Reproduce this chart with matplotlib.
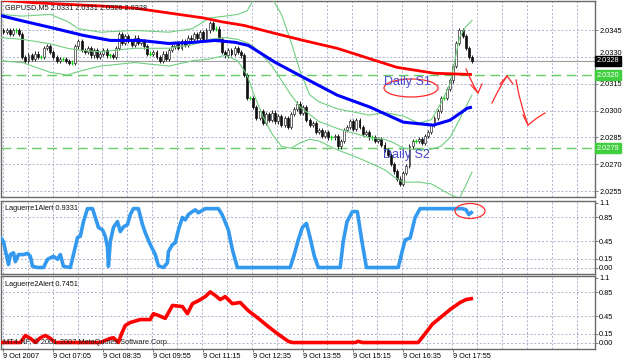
import numpy as np
import matplotlib
matplotlib.use("Agg")
import matplotlib.pyplot as plt
from matplotlib.patches import Ellipse
from matplotlib.lines import Line2D
from matplotlib.transforms import Affine2D, blended_transform_factory

plt.rcParams['font.family'] = ['Liberation Sans', 'DejaVu Sans']

# ---------------- data ----------------
title_main = "GBPUSD,M5 2.0331 2.0331 2.0326 2.0328"
title_lag1 = "Laguerre1Alert 0.9331"
title_lag2 = "Laguerre2Alert 0.7451"
copyright_txt = "MT4-NF, \u00a9 2001-2007 MetaQuotes Software Corp."

time_labels = ["9 Oct 2007", "9 Oct 07:05", "9 Oct 08:35", "9 Oct 09:55", "9 Oct 11:15",
               "9 Oct 12:35", "9 Oct 13:55", "9 Oct 15:15", "9 Oct 16:35", "9 Oct 17:55"]
bars_per_label = 16

# candle closes, pips above 2.0000 (M5 bars)
first_open_pips = 345
close_pips = [344, 345, 343, 345, 345, 343,
              330,
              328, 331, 329, 332, 330, 330,
              335, 336, 333,
              330, 328, 329, 329, 328, 327, 327,
              336, 339, 334,
              333, 335, 331, 334, 330, 332, 334, 331, 331, 330, 335,
              343, 338, 342,
              339, 337, 341, 338,
              339, 336,
              332, 332, 333,
              330, 328, 332, 329,
              334, 336, 338, 335, 339, 337, 341, 340,
              343, 341, 344, 340, 345,
              349, 346, 346,
              340,
              333, 331, 334, 332, 335, 333, 331,
              320, 307, 307, 302,
              296, 300, 293, 298, 295, 299,
              294, 297, 292, 296, 291, 298,
              301, 304, 299, 302,
              295, 292, 293,
              288, 289, 286, 288, 285, 285, 286,
              280, 283,
              289, 291, 294, 290, 295, 291,
              287, 288, 285, 285, 283, 284, 281,
              278, 275, 270, 266, 262, 259, 265, 269,
              280, 283, 283, 284, 282, 286,
              288, 292, 296, 300, 307, 307, 312, 317,
              325, 338,
              345, 342,
              335, 330, 328]

price_levels = [2.0255, 2.0270, 2.0285, 2.0300, 2.0315, 2.0330, 2.0345]
bid_price = 2.0328
daily_s1 = 2.0320
daily_s2 = 2.0279

# moving averages (bar index, pips)
red_ma_x = [-1, 10, 31, 42, 64, 70, 77, 87, 96, 107, 117, 126, 138, 150]
red_ma_pips = [362, 360.5, 358.7, 357.5, 352, 349.8, 347.8, 343.3, 339.4, 334.9, 329.3, 324.3, 321, 320.3]
blue_ma_x = [-1, 5.4, 15, 25.6, 34.2, 43.8, 52.8, 60.5, 67.8, 74.2, 78.4, 87, 96, 106.9,
             117.4, 128, 137.6, 143, 148.5, 150]
blue_ma_pips = [353.4, 350.6, 346.7, 342.2, 339.4, 339.4, 337.7, 338.3, 339.4, 338.3, 336.6,
                327.1, 318.7, 308.7, 302, 293.6, 291.9, 294.7, 301.4, 302]

# Bollinger bands (bar index, pips)
bb_x = [-1, 6, 15, 20.5, 24, 31, 42, 53, 60.5, 66, 71, 75, 78, 80, 83, 86, 89, 92, 95, 98,
        101, 107, 113, 117, 122, 125, 128, 133, 137, 140, 143, 146, 148, 150]
bb_upper = [354, 353, 354, 350, 346, 344, 345, 344, 346, 352, 353, 354, 356, 362, 365, 363, 354,
            339, 322, 309, 305, 301, 299, 297.5, 299, 298, 297, 293, 295, 304, 315, 341, 347, 350.6]
bb_mid = [341, 340, 337.5, 335, 334, 333, 335, 335, 337, 340, 341, 340, 338, 336, 331, 325, 317,
          309, 302, 298, 294, 290, 287, 285, 284, 282, 279, 278, 278.5, 280, 285, 295, 302, 308.8]
bb_lower = [328, 327, 321.5, 320, 322, 325, 327, 325, 328, 329, 331, 328, 320, 310, 297, 287, 280,
            279, 282, 284, 283, 278, 274, 271, 267, 263, 260, 260, 259, 256, 253, 251, 258, 265.6]

# Laguerre 1 (bar index, value)
lag1_x = [-1, 0, 1.6, 2.2, 3.2, 3.8, 4.8, 6.4, 7.7, 8.6, 9.3, 10.9, 12.8, 14.1, 16, 17.3, 18.2,
          19.2, 21.4, 22.4, 23.7, 24.6, 25.6, 26.9, 28.5, 29.4, 30.4, 31.7, 32.6, 33.3, 33.6,
          34.2, 35.2, 36.5, 37.4, 38.4, 39.7, 40.6, 41.6, 43.2, 44.5, 45.4, 47, 48.6, 49.6,
          51.2, 52.5, 52.8, 54.1, 55, 56, 57.3, 58.2, 59.2, 60.5, 61.4, 62.4, 64.6, 68.8, 70,
          72, 73.3, 74.9, 91.8, 93.1, 94.4, 95.7, 97, 98.2, 99.5, 100.8, 107.8, 108.8, 110,
          111.7, 113.3, 114.6, 116.2, 126.4, 127.4, 128.6, 130.2, 131.8, 133.4, 146.9, 148.1,
          149, 149.8]
lag1_val = [0.51, 0.44, 0.05, 0.22, 0.25, 0.10, 0.22, 0.22, 0.24, 0.19, 0.02, 0, 0, 0.14, 0.19,
            0.14, 0.22, 0.02, 0, 0.22, 0.51, 0.53, 0.78, 1.0, 1.0, 0.85, 0.68, 0.64, 0.53, 0.34,
            0.02, 0.44, 0.68, 0.78, 0.61, 0.69, 0.73, 0.9, 1.0, 1.0, 0.73, 0.59, 0.39, 0.22,
            0.03, 0, 0.08, 0.27, 0.39, 0.42, 0.64, 0.85, 0.81, 0.9, 0.95, 0.98, 0.93, 1.0, 1.0,
            0.9, 0.64, 0.3, 0, 0, 0.22, 0.47, 0.68, 0.75, 0.5, 0.2, 0, 0, 0.45, 0.78, 0.95,
            0.95, 0.5, 0, 0, 0.22, 0.47, 0.5, 0.85, 1.0, 1.0, 0.98, 0.9, 0.933]

# Laguerre 2 (bar index, value)
lag2_x = [-1, 5.4, 7, 8.6, 10.2, 11.8, 13.4, 15, 16.6, 31, 34.2, 35.2, 36.8, 37.8, 39, 40.6,
          43.8, 47, 48, 49.6, 51.8, 54.1, 57.3, 58.9, 60.5, 62.4, 64.6, 66.2, 67.8, 69.4, 71,
          73.3, 75.8, 78.4, 81.6, 84.8, 88, 91.2, 92.5, 112.6, 113.6, 114.9, 132.8, 135,
          137.3, 139.8, 143, 146.2, 148.1, 149.8]
lag2_val = [0, 0, 0.12, 0.07, 0, 0.08, 0.12, 0.07, 0, 0, 0.07, 0.08, 0, 0.15, 0.29, 0.34, 0.39,
            0.39, 0.49, 0.46, 0.41, 0.63, 0.61, 0.49, 0.66, 0.71, 0.78, 0.86, 0.8, 0.73, 0.78,
            0.66, 0.68, 0.54, 0.41, 0.27, 0.14, 0.02, 0, 0, 0.02, 0, 0, 0.15, 0.31, 0.42, 0.56,
            0.68, 0.73, 0.745]
osc_levels = [0.0, 0.15, 0.45, 0.85]
osc_labels = ["0.00", "0.15", "0.45", "0.85", "1.1"]
osc_label_vals = [0.0, 0.15, 0.45, 0.85, 1.1]

# ---------------- style ----------------
W, H = 625, 362
GRID = '#a9b0cc'
FRAME = '#6a6a6a'
FS = 5.3
px_tr = Affine2D().scale(1, -1).translate(0, H)   # image pixel coords -> display


def P(p):
    return 2.0 + np.asarray(p, dtype=float) / 1e4


def rect(x0, y0, x1, y1):
    return [x0 / W, 1 - y1 / H, (x1 - x0) / W, (y1 - y0) / H]


fig = plt.figure(figsize=(W / 100, H / 100), dpi=100)
fig.patch.set_facecolor('white')
ax0 = fig.add_axes(rect(0.5, 0.5, 595, 197))
ax1 = fig.add_axes(rect(0.5, 201, 595, 274))
ax2 = fig.add_axes(rect(0.5, 276, 595, 349))

xlim = (-0.96, 189.4)
n = len(close_pips)
for ax in (ax0, ax1, ax2):
    ax.set_xlim(*xlim)
    for s in ax.spines.values():
        s.set_color(FRAME)
        s.set_linewidth(1.0)
    ax.yaxis.tick_right()
    ax.tick_params(axis='y', length=2, width=0.6, color=FRAME, labelsize=FS, pad=1)
    ax.tick_params(axis='x', length=0)
    for k in range(0, 24):
        ax.axvline(8 * k - 0.3, color=GRID, lw=0.7, ls=(0, (2, 2)), zorder=0)
    ax.set_xticks([])

# ---------------- main panel ----------------
ax0.set_ylim(2.025165, 2.036177)
for lv in price_levels:
    ax0.axhline(lv, color=GRID, lw=0.7, ls=(0, (2, 2)), zorder=0)
ax0.set_yticks(price_levels)
ax0.set_yticklabels([f"{v:.4f}" for v in price_levels])
for lab, lv in zip(ax0.get_yticklabels(), price_levels):
    if abs(lv - bid_price) < 0.0004:
        lab.set_va('bottom')

ax0.axhline(bid_price, color='#a0a0a0', lw=0.8, zorder=1)
ax0.axhline(daily_s1, color='#66cc66', lw=1.0, ls=(0, (7, 4)), zorder=1)
ax0.axhline(daily_s2, color='#66cc66', lw=1.0, ls=(0, (7, 4)), zorder=1)

c = P(close_pips)
o = np.concatenate([[P(first_open_pips)], c[:-1]])
x = np.arange(n)
wick = 1.2e-4
hi = np.maximum(o, c) + wick
lo = np.minimum(o, c) - wick
up = c > o
dn = c < o
dj = c == o
ax0.vlines(x[~dj], lo[~dj], hi[~dj], color='#202020', lw=0.7, zorder=3)
ax0.vlines(x[dj], lo[dj], hi[dj], color='#00dd00', lw=0.7, zorder=3)
ax0.bar(x[up], (c - o)[up], bottom=o[up], width=0.62, color='white', edgecolor='#303030',
        lw=0.5, zorder=4)
ax0.bar(x[dn], (o - c)[dn], bottom=c[dn], width=0.62, color='#101010', edgecolor='#101010',
        lw=0.5, zorder=4)
ax0.hlines(c[dj], x[dj] - 0.4, x[dj] + 0.4, color='#00dd00', lw=1.0, zorder=4)

bb_col = '#6fcf7f'
ax0.plot(bb_x, P(bb_upper), color=bb_col, lw=0.8, zorder=5)
ax0.plot(bb_x, P(bb_mid), color=bb_col, lw=0.8, zorder=5)
ax0.plot(bb_x, P(bb_lower), color=bb_col, lw=0.8, zorder=5)
ax0.plot(red_ma_x, P(red_ma_pips), color='#ff0000', lw=2.0, zorder=6, solid_capstyle='butt')
ax0.plot(blue_ma_x, P(blue_ma_pips), color='#0000ff', lw=2.2, zorder=6, solid_capstyle='butt')

tr0 = blended_transform_factory(ax0.transAxes, ax0.transData)
ax0.text(1.003, bid_price, f"{bid_price:.4f}", transform=tr0, ha='left', va='center',
         color='white', fontsize=FS, zorder=10,
         bbox=dict(boxstyle='square,pad=0.18', fc='black', ec='black'))
for lv in (daily_s1, daily_s2):
    ax0.text(1.003, lv, f"{lv:.4f}", transform=tr0, ha='left', va='center', color='white',
             fontsize=FS, zorder=10,
             bbox=dict(boxstyle='square,pad=0.18', fc='#3fcf3f', ec='#3fcf3f'))

fig.text(5, 8, title_main, transform=px_tr, ha='left', va='center', fontsize=FS, color='#111111')

# hand drawn annotations (image pixel coords)
fig.text(384, 82, "Daily S1", transform=px_tr, ha='left', va='center', fontsize=9,
         color='#4a4ad0', zorder=20)
fig.text(383, 155, "Daily S2", transform=px_tr, ha='left', va='center', fontsize=9,
         color='#4a4ad0', zorder=20)
RC = '#ff2a2a'
fig.add_artist(Ellipse((411, 88), 54, 18, transform=px_tr, fill=False, ec=RC, lw=0.9))
strokes = [
    [(466, 69), (470, 78), (474, 86), (478, 93)],
    [(471, 85), (478, 93), (482, 84)],
    [(492, 103), (497, 93), (502, 84), (507, 76)],
    [(500, 84), (507, 76), (513, 84)],
    [(516, 80), (519, 95), (523, 110), (528, 125)],
    [(523, 115), (528, 125), (537, 118), (545, 113)],
]
for st in strokes:
    xs, ys = zip(*st)
    fig.add_artist(Line2D(xs, ys, transform=px_tr, color=RC, lw=0.9))

# ---------------- oscillator panels ----------------
for ax, xs, vs, col, ttl, ty in ((ax1, lag1_x, lag1_val, '#3399ee', title_lag1, 208),
                                 (ax2, lag2_x, lag2_val, '#ff0000', title_lag2, 285)):
    ax.set_ylim(-0.11, 1.13)
    for lv in osc_levels:
        ax.axhline(lv, color=GRID, lw=0.7, ls=(0, (2, 2)), zorder=0)
    ax.set_yticks(osc_label_vals)
    ax.set_yticklabels(osc_labels)
    ax.plot(xs, vs, color=col, lw=2.6, zorder=5, solid_joinstyle='round')
    fig.text(5, ty, ttl, transform=px_tr, ha='left', va='center', fontsize=FS, color='#111111')

fig.add_artist(Ellipse((470, 211), 30, 15, transform=px_tr, fill=False, ec=RC, lw=0.9))
fig.text(3, 342, copyright_txt, transform=px_tr, ha='left', va='center', fontsize=FS,
         color='#222222', zorder=20)

tick_pos = [bars_per_label * k for k in range(len(time_labels))]
ax2.set_xticks(tick_pos)
ax2.set_xticklabels(time_labels, fontsize=FS)
ax2.tick_params(axis='x', length=2, width=0.6, color=FRAME, pad=1)
for lab in ax2.get_xticklabels():
    lab.set_ha('left')

fig.savefig("out.png", dpi=100)
